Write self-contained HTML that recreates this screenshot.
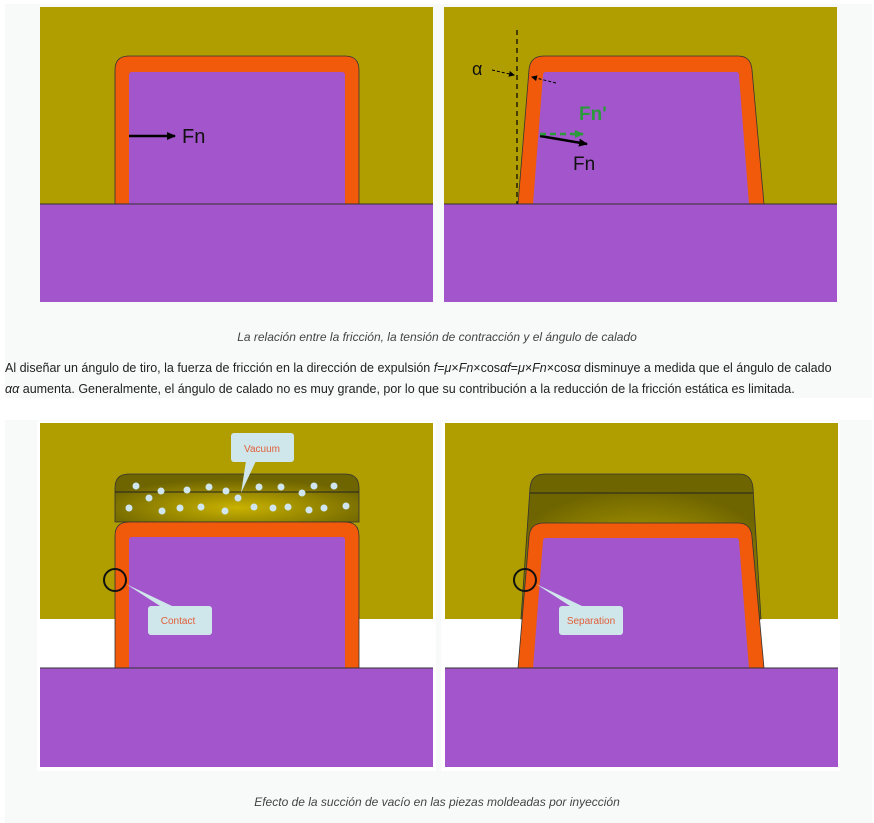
<!DOCTYPE html>
<html><head><meta charset="utf-8"><style>
body{margin:0;width:874px;height:823px;background:#fff;font-family:"Liberation Sans",sans-serif;overflow:hidden;position:relative}
.bg{position:absolute;background:#f8f9f9}
.cap{position:absolute;left:0;width:874px;text-align:center;font-style:italic;font-size:12px;color:#444}
.para{position:absolute;left:5px;top:358px;width:830px;font-size:12.5px;line-height:21px;color:#222}
</style></head><body>
<div class="bg" style="left:5px;top:4px;width:867px;height:394px"></div>
<div class="bg" style="left:5px;top:420px;width:867px;height:403px"></div>
<svg width="874" height="823" style="position:absolute;left:0;top:0">
<defs>
<radialGradient id="cav" cx="0.5" cy="0.7" r="0.6"><stop offset="0" stop-color="#c9b200"/><stop offset="1" stop-color="#6e6400"/></radialGradient>
<marker id="ah" markerUnits="userSpaceOnUse" markerWidth="10" markerHeight="8" refX="8" refY="4" orient="auto"><path d="M0,0L9,4L0,8z" fill="#000"/></marker>
<marker id="ahs" markerUnits="userSpaceOnUse" markerWidth="6" markerHeight="6" refX="5" refY="3" orient="auto"><path d="M0,0L6,3L0,6z" fill="#000"/></marker>
<marker id="ahg" markerUnits="userSpaceOnUse" markerWidth="10" markerHeight="8" refX="8" refY="4" orient="auto"><path d="M0,0L9,4L0,8z" fill="#2a9a3a"/></marker>
</defs>
<g>
<rect x="40" y="7" width="393" height="197" fill="#b09e00"/>
<rect x="40" y="204" width="393" height="98" fill="#a355cb"/>
<path d="M115,204 V70 Q115,56 129,56 H345 Q359,56 359,70 V204 Z" fill="#f05a0a" stroke="#333" stroke-width="0.8"/>
<path d="M129,204 V75 Q129,72 132,72 H342 Q345,72 345,75 V204 Z" fill="#a355cb"/>
<line x1="40" y1="204" x2="433" y2="204" stroke="#333" stroke-width="1"/>
<line x1="129" y1="136" x2="175" y2="136" stroke="#000" stroke-width="2.5" marker-end="url(#ah)"/>
<text x="182" y="143" font-size="20" fill="#111">Fn</text>
</g>
<g>
<rect x="444" y="7" width="393" height="197" fill="#b09e00"/>
<rect x="444" y="204" width="393" height="98" fill="#a355cb"/>
<path d="M518,204 L529,70 Q530,56 544,56 H738 Q751,56 752,70 L764,204 Z" fill="#f05a0a" stroke="#333" stroke-width="0.8"/>
<path d="M533,204 L543,75 Q543,72 546,72 H736 Q739,72 739,75 L749,204 Z" fill="#a355cb"/>
<line x1="444" y1="204" x2="837" y2="204" stroke="#333" stroke-width="1"/>
<line x1="517" y1="30" x2="517" y2="204" stroke="#000" stroke-width="1.2" stroke-dasharray="5,4"/>
<text x="472" y="75" font-size="18" fill="#111">α</text>
<line x1="492" y1="70" x2="514" y2="75" stroke="#000" stroke-width="1" stroke-dasharray="3,2" marker-end="url(#ahs)"/>
<line x1="556" y1="83" x2="532" y2="77" stroke="#000" stroke-width="1" stroke-dasharray="3,2" marker-end="url(#ahs)"/>
<line x1="540" y1="136" x2="587" y2="144" stroke="#000" stroke-width="2.5" marker-end="url(#ah)"/>
<line x1="540" y1="134" x2="583" y2="134" stroke="#2a9a3a" stroke-width="2.5" stroke-dasharray="6,4" marker-end="url(#ahg)"/>
<text x="579" y="120" font-size="19" fill="#2a9a3a" font-weight="bold">Fn'</text>
<text x="573" y="170" font-size="19" fill="#111">Fn</text>
</g>
<g>
<rect x="37" y="421" width="399" height="350" fill="#fff"/>
<rect x="40" y="423" width="393" height="196" fill="#b09e00"/>
<path d="M115,522 V488 Q115,474 129,474 H345 Q359,474 359,488 V522 Z" fill="url(#cav)" stroke="#333" stroke-width="0.8"/>
<line x1="115" y1="492" x2="359" y2="492" stroke="#222" stroke-width="1"/>
<rect x="40" y="668" width="393" height="99" fill="#a355cb"/>
<path d="M115,668 V536 Q115,522 129,522 H345 Q359,522 359,536 V668 Z" fill="#f05a0a" stroke="#333" stroke-width="0.8"/>
<path d="M129,668 V540 Q129,537 132,537 H342 Q345,537 345,540 V668 Z" fill="#a355cb"/>
<line x1="40" y1="668" x2="433" y2="668" stroke="#333" stroke-width="1"/>
<g fill="#cfe6f0">
<circle cx="136" cy="486" r="3.5"/><circle cx="161" cy="491" r="3.5"/><circle cx="187" cy="490" r="3.5"/><circle cx="209" cy="487" r="3.5"/><circle cx="226" cy="491" r="3.5"/><circle cx="259" cy="487" r="3.5"/><circle cx="281" cy="487" r="3.5"/><circle cx="314" cy="486" r="3.5"/><circle cx="334" cy="486" r="3.5"/><circle cx="302" cy="493" r="3.5"/>
<circle cx="149" cy="498" r="3.5"/><circle cx="238" cy="498" r="3.5"/>
<circle cx="129" cy="508" r="3.5"/><circle cx="162" cy="511" r="3.5"/><circle cx="180" cy="508" r="3.5"/><circle cx="201" cy="507" r="3.5"/><circle cx="225" cy="511" r="3.5"/><circle cx="254" cy="507" r="3.5"/><circle cx="273" cy="508" r="3.5"/><circle cx="288" cy="507" r="3.5"/><circle cx="309" cy="510" r="3.5"/><circle cx="324" cy="508" r="3.5"/><circle cx="346" cy="506" r="3.5"/>
</g>
<path d="M246,461 L241,493 L256,461 Z" fill="#cfe6ea"/>
<rect x="231" y="433" width="63" height="29" rx="3" fill="#cfe6ea"/>
<text x="262" y="452" font-size="10" fill="#e0603a" text-anchor="middle">Vacuum</text>
<circle cx="115" cy="580" r="11" fill="none" stroke="#111" stroke-width="2"/>
<path d="M126,584 L160,606 L172,606 Z" fill="#cfe6ea"/>
<rect x="148" y="606" width="64" height="29" rx="3" fill="#cfe6ea"/>
<text x="178" y="624" font-size="10" fill="#e0603a" text-anchor="middle">Contact</text>
</g>
<g>
<rect x="441" y="421" width="399" height="350" fill="#fff"/>
<rect x="445" y="423" width="393" height="196" fill="#b09e00"/>
<path d="M521,619 L530,488 Q531,474 545,474 H739 Q752,474 753,488 L761,619 Z" fill="url(#cav)" stroke="#333" stroke-width="0.8"/>
<line x1="530" y1="493" x2="753" y2="493" stroke="#222" stroke-width="1"/>
<rect x="445" y="668" width="393" height="99" fill="#a355cb"/>
<path d="M518,668 L529,537 Q530,523 544,523 H738 Q751,523 752,537 L764,668 Z" fill="#f05a0a" stroke="#333" stroke-width="0.8"/>
<path d="M533,668 L543,541 Q543,538 546,538 H736 Q739,538 739,541 L749,668 Z" fill="#a355cb"/>
<line x1="445" y1="668" x2="838" y2="668" stroke="#333" stroke-width="1"/>
<circle cx="525" cy="580" r="11" fill="none" stroke="#111" stroke-width="2"/>
<path d="M536,584 L570,606 L582,606 Z" fill="#cfe6ea"/>
<rect x="559" y="606" width="64" height="29" rx="3" fill="#cfe6ea"/>
<text x="591" y="624" font-size="10" fill="#e0603a" text-anchor="middle">Separation</text>
</g>
</svg>
<div class="cap" style="top:330px">La relación entre la fricción, la tensión de contracción y el ángulo de calado</div>
<div class="para">Al diseñar un ángulo de tiro, la fuerza de fricción en la dirección de expulsión <i>f</i>=<i>μ</i>×<i>Fn</i>×cos<i>αf</i>=<i>μ</i>×<i>Fn</i>×cos<i>α</i> disminuye a medida que el ángulo de calado <i>αα</i> aumenta. Generalmente, el ángulo de calado no es muy grande, por lo que su contribución a la reducción de la fricción estática es limitada.</div>
<div class="cap" style="top:795px">Efecto de la succión de vacío en las piezas moldeadas por inyección</div>
</body></html>
